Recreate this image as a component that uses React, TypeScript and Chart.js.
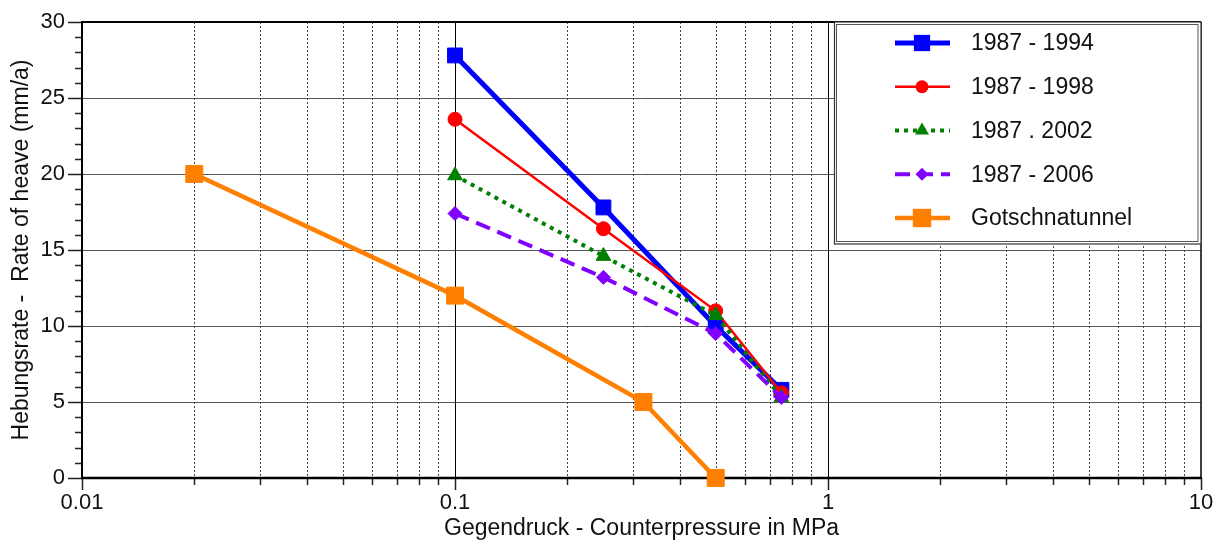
import React, { useEffect, useRef } from 'react';
import { Chart, registerables } from 'chart.js';

Chart.register(...registerables);

// ---- data ----
const seriesLabels = ['1987 - 1994', '1987 - 1998', '1987 . 2002', '1987 - 2006', 'Gotschnatunnel'];
const counterpressure = [0.1, 0.25, 0.5, 0.75];
const rate1994 = [27.8, 17.8, 10.0, 5.8];
const rate1998 = [23.6, 16.4, 11.0, 5.6];
const rate2002 = [19.9, 14.6, 10.7, 5.3];
const rate2006 = [17.4, 13.2, 9.5, 5.3];
const gotschnaPressure = [0.02, 0.1, 0.32, 0.5];
const gotschnaRate = [20, 12, 5, 0];
const xTickValues = [0.01, 0.1, 1, 10];
const yTickValues = [0, 5, 10, 15, 20, 25, 30];

const FONT = "'Liberation Sans', Arial, Helvetica, sans-serif";

const toPoints = (xs: number[], ys: number[]) => xs.map((x, i) => ({ x, y: ys[i] }));

type Style = { color: string; width: number; dash: number[]; marker: string; mSize: number; legendSize: number };
const styles: Style[] = [
  { color: '#0000ff', width: 5, dash: [], marker: 'rect', mSize: 10.5, legendSize: 11.5 },
  { color: '#ff0000', width: 2.5, dash: [], marker: 'circle', mSize: 7, legendSize: 6.5 },
  { color: '#008000', width: 4, dash: [4, 5], marker: 'triangle', mSize: 8.5, legendSize: 8 },
  { color: '#8000ff', width: 4, dash: [15, 8], marker: 'rectRot', mSize: 7, legendSize: 6.5 },
  { color: '#ff8000', width: 4.5, dash: [], marker: 'rect', mSize: 12, legendSize: 13 },
];
const seriesData = [
  toPoints(counterpressure, rate1994),
  toPoints(counterpressure, rate1998),
  toPoints(counterpressure, rate2002),
  toPoints(counterpressure, rate2006),
  toPoints(gotschnaPressure, gotschnaRate),
];
const drawOrder = [4, 3, 2, 1, 5];

function drawMarker(ctx: CanvasRenderingContext2D, kind: string, x: number, y: number, r: number, color: string) {
  ctx.save();
  ctx.fillStyle = color;
  ctx.beginPath();
  if (kind === 'rect') {
    const s = Math.SQRT1_2 * r;
    ctx.rect(x - s, y - s, 2 * s, 2 * s);
  } else if (kind === 'circle') {
    ctx.arc(x, y, r, 0, Math.PI * 2);
  } else if (kind === 'triangle') {
    for (let i = 0; i < 3; i++) {
      const a = (i * 2 * Math.PI) / 3;
      const px = x + Math.sin(a) * r;
      const py = y - Math.cos(a) * r;
      if (i === 0) ctx.moveTo(px, py); else ctx.lineTo(px, py);
    }
    ctx.closePath();
  } else if (kind === 'rectRot') {
    ctx.moveTo(x - r, y);
    ctx.lineTo(x, y - r);
    ctx.lineTo(x + r, y);
    ctx.lineTo(x, y + r);
    ctx.closePath();
  }
  ctx.fill();
  ctx.restore();
}

const framePlugin = {
  id: 'frameGrid',
  beforeDatasetsDraw(chart: any) {
    const { ctx, chartArea: a, scales } = chart;
    const xs = scales.x;
    const ys = scales.y;
    ctx.save();
    // horizontal grid
    ctx.strokeStyle = '#555';
    ctx.lineWidth = 1;
    for (const v of yTickValues) {
      if (v === ys.min || v === ys.max) continue;
      const py = Math.round(ys.getPixelForValue(v)) + 0.5;
      ctx.beginPath(); ctx.moveTo(a.left, py); ctx.lineTo(a.right, py); ctx.stroke();
    }
    // vertical minor dotted grid
    const minors: number[] = [];
    for (let d = 0; d < xTickValues.length - 1; d++) {
      for (let k = 2; k <= 9; k++) minors.push(xTickValues[d] * k);
    }
    ctx.setLineDash([2, 2]);
    ctx.strokeStyle = '#444';
    for (const v of minors) {
      const px = Math.round(xs.getPixelForValue(v)) + 0.5;
      ctx.beginPath(); ctx.moveTo(px, a.top); ctx.lineTo(px, a.bottom); ctx.stroke();
    }
    ctx.setLineDash([]);
    // major vertical
    ctx.strokeStyle = '#000';
    for (const v of xTickValues.slice(1, -1)) {
      const px = Math.round(xs.getPixelForValue(v)) + 0.5;
      ctx.beginPath(); ctx.moveTo(px, a.top); ctx.lineTo(px, a.bottom); ctx.stroke();
    }
    // x tick marks
    ctx.strokeStyle = '#222';
    ctx.lineWidth = 1.5;
    for (const v of minors) {
      const px = Math.round(xs.getPixelForValue(v)) + 0.5;
      ctx.beginPath(); ctx.moveTo(px, a.bottom); ctx.lineTo(px, a.bottom + 7); ctx.stroke();
    }
    for (const v of xTickValues) {
      const px = Math.round(xs.getPixelForValue(v)) + 0.5;
      ctx.beginPath(); ctx.moveTo(px, a.bottom); ctx.lineTo(px, a.bottom + 12); ctx.stroke();
    }
    // y tick marks
    for (let v = ys.min; v <= ys.max; v += 1) {
      const py = Math.round(ys.getPixelForValue(v)) + 0.5;
      const len = v % 5 === 0 ? 14 : 7;
      ctx.beginPath(); ctx.moveTo(a.left - len, py); ctx.lineTo(a.left, py); ctx.stroke();
    }
    // frame
    ctx.strokeStyle = '#000';
    ctx.lineWidth = 2.5;
    ctx.beginPath(); ctx.moveTo(a.left - 1, a.bottom); ctx.lineTo(a.right + 1, a.bottom); ctx.stroke();
    ctx.lineWidth = 2;
    ctx.beginPath(); ctx.moveTo(a.left - 1, a.top); ctx.lineTo(a.right, a.top); ctx.stroke();
    ctx.beginPath(); ctx.moveTo(a.left, a.top); ctx.lineTo(a.left, a.bottom); ctx.stroke();
    ctx.lineWidth = 1.5;
    ctx.beginPath(); ctx.moveTo(a.right, a.top); ctx.lineTo(a.right, a.bottom); ctx.stroke();
    ctx.restore();
  },
};

const legendPlugin = {
  id: 'boxLegend',
  afterDraw(chart: any) {
    const { ctx, chartArea: a } = chart;
    const left = 834;
    const top = a.top;
    const right = a.right;
    const bottom = 244;
    ctx.save();
    ctx.fillStyle = '#fff';
    ctx.fillRect(left, top, right - left, bottom - top);
    ctx.strokeStyle = '#333';
    ctx.lineWidth = 1.2;
    ctx.strokeRect(left + 0.5, top, right - left - 0.5, bottom - top);
    ctx.strokeStyle = '#555';
    ctx.lineWidth = 1;
    ctx.strokeRect(left + 2.5, top + 2.5, right - left - 5.5, bottom - top - 5);
    ctx.font = `23px ${FONT}`;
    ctx.textBaseline = 'middle';
    ctx.textAlign = 'left';
    seriesLabels.forEach((label, i) => {
      const st = styles[i];
      const y = 43 + i * 43.75;
      ctx.strokeStyle = st.color;
      ctx.lineWidth = st.width;
      ctx.setLineDash(st.dash);
      ctx.beginPath(); ctx.moveTo(895, y); ctx.lineTo(950, y); ctx.stroke();
      ctx.setLineDash([]);
      drawMarker(ctx, st.marker, 922, y, st.legendSize, st.color);
      ctx.fillStyle = '#111';
      ctx.fillText(label, 971, y + 1);
    });
    ctx.restore();
  },
};

export default function App() {
  const ref = useRef<HTMLCanvasElement | null>(null);
  useEffect(() => {
    document.body.style.margin = '0';
    if (!ref.current) return;
    Chart.defaults.font.family = FONT;
    const chart = new Chart(ref.current, {
      type: 'line',
      data: {
        datasets: seriesLabels.map((label, i) => ({
          label,
          data: seriesData[i],
          borderColor: styles[i].color,
          backgroundColor: styles[i].color,
          borderWidth: styles[i].width,
          borderDash: styles[i].dash,
          pointStyle: styles[i].marker,
          pointRadius: styles[i].mSize,
          pointBorderWidth: 1,
          pointBackgroundColor: styles[i].color,
          pointBorderColor: styles[i].color,
          tension: 0,
          fill: false,
          clip: false,
          order: drawOrder[i],
        })),
      },
      options: {
        animation: false,
        responsive: true,
        maintainAspectRatio: false,
        layout: { padding: { top: 22, right: 21, left: 0, bottom: 0 } },
        plugins: { legend: { display: false }, tooltip: { enabled: false } },
        scales: {
          x: {
            type: 'logarithmic',
            min: 0.01,
            max: 10,
            afterBuildTicks: (s: any) => { s.ticks = xTickValues.map((value) => ({ value })); },
            afterFit: (s: any) => { s.height = 66; s.paddingLeft = 0; s.paddingRight = 0; },
            grid: { display: false, drawTicks: false },
            border: { display: false },
            ticks: {
              autoSkip: false,
              maxRotation: 0,
              padding: 12,
              color: '#111',
              font: { size: 22 },
              callback: (v: any) => String(v),
            },
            title: {
              display: true,
              text: 'Gegendruck - Counterpressure in MPa',
              color: '#111',
              font: { size: 23 },
              padding: { top: 0, bottom: 2 },
            },
          },
          y: {
            type: 'linear',
            min: 0,
            max: 30,
            afterBuildTicks: (s: any) => { s.ticks = yTickValues.map((value) => ({ value })); },
            afterFit: (s: any) => { s.width = 82; s.paddingTop = 0; s.paddingBottom = 0; },
            grid: { display: false, drawTicks: false },
            border: { display: false },
            ticks: { padding: 17, color: '#111', font: { size: 22 } },
            title: {
              display: true,
              text: 'Hebungsrate -  Rate of heave (mm/a)',
              color: '#111',
              font: { size: 23 },
              padding: { top: 8, bottom: 0 },
            },
          },
        },
      } as any,
      plugins: [framePlugin, legendPlugin],
    });
    return () => chart.destroy();
  }, []);
  return (
    <div style={{ position: 'relative', width: 1222, height: 544 }}>
      <canvas ref={ref} />
    </div>
  );
}
